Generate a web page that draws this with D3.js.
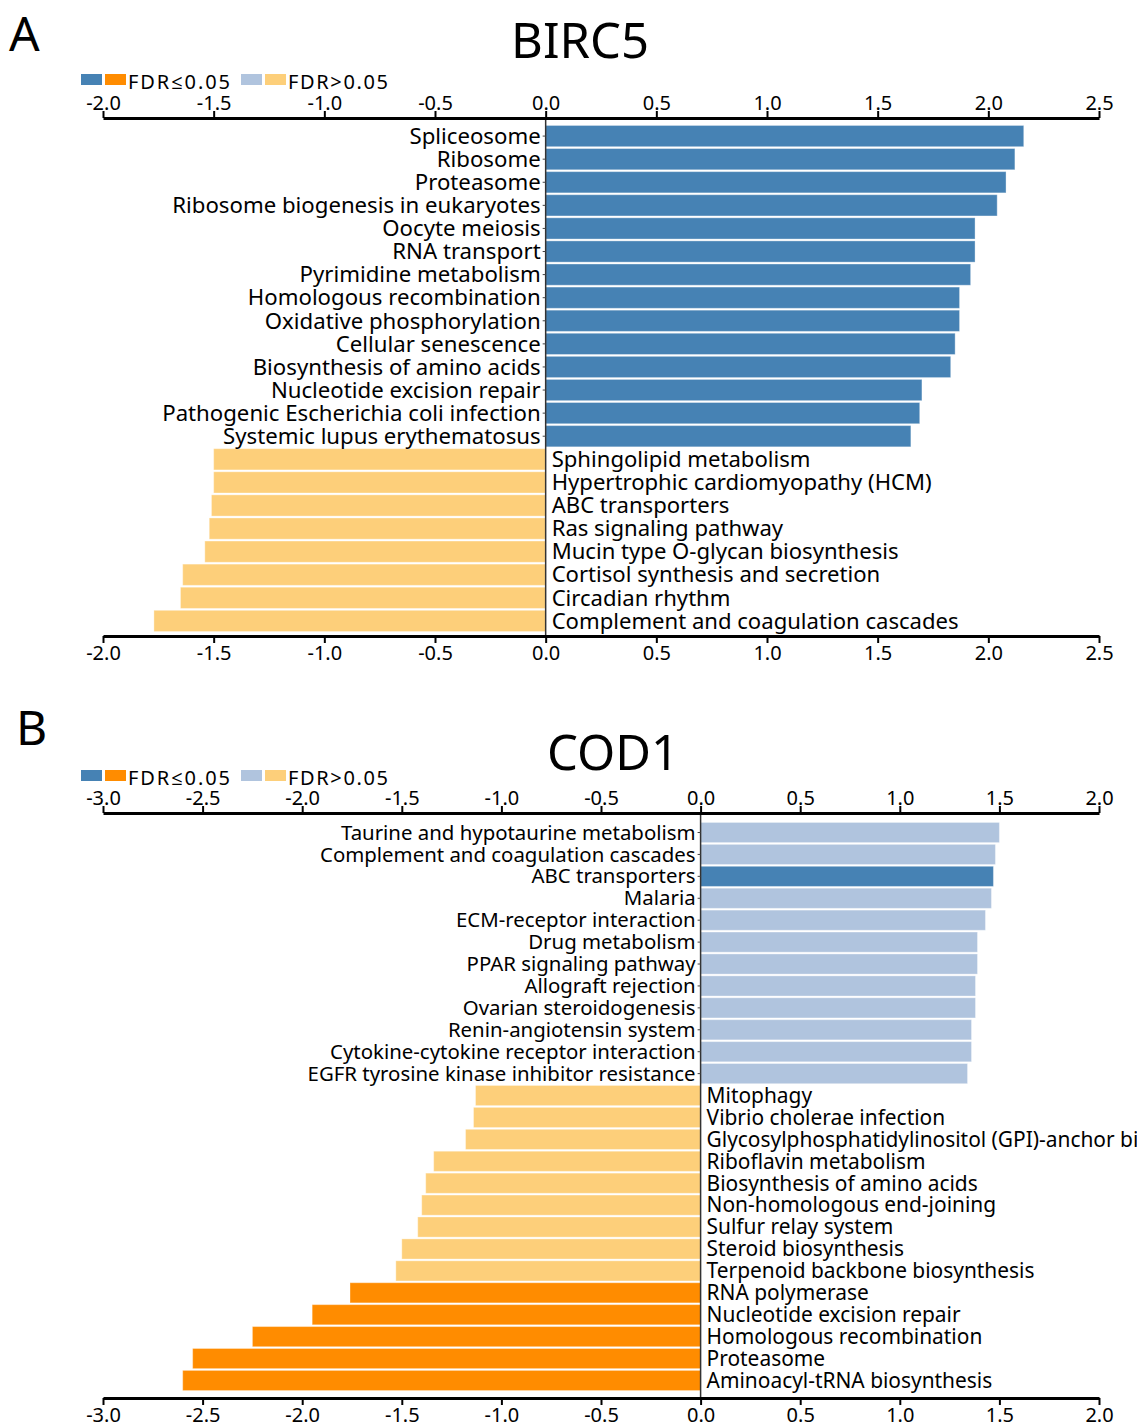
<!DOCTYPE html>
<html>
<head>
<meta charset="utf-8">
<script src="https://cdn.jsdelivr.net/npm/d3@7"></script>
<style>
  body { margin: 0; background: #fff; }
  text { font-family: "Noto Sans", "Open Sans", sans-serif; fill: #000; }
</style>
</head>
<body>
<svg width="1137" height="1426"></svg>
<script>
// panel A - BIRC5
const birc5Terms = [
  "Spliceosome", "Ribosome", "Proteasome", "Ribosome biogenesis in eukaryotes",
  "Oocyte meiosis", "RNA transport", "Pyrimidine metabolism", "Homologous recombination",
  "Oxidative phosphorylation", "Cellular senescence", "Biosynthesis of amino acids",
  "Nucleotide excision repair", "Pathogenic Escherichia coli infection", "Systemic lupus erythematosus",
  "Sphingolipid metabolism", "Hypertrophic cardiomyopathy (HCM)", "ABC transporters",
  "Ras signaling pathway", "Mucin type O-glycan biosynthesis", "Cortisol synthesis and secretion",
  "Circadian rhythm", "Complement and coagulation cascades"
];
const birc5Values = [
  2.16, 2.12, 2.08, 2.04, 1.94, 1.94, 1.92, 1.87, 1.87, 1.85, 1.83, 1.70, 1.69, 1.65,
  -1.50, -1.50, -1.51, -1.52, -1.54, -1.64, -1.65, -1.77
];
const birc5Sig = [
  1, 1, 1, 1, 1, 1, 1, 1, 1, 1, 1, 1, 1, 1,
  0, 0, 0, 0, 0, 0, 0, 0
];
const birc5Ticks = [-2.0, -1.5, -1.0, -0.5, 0.0, 0.5, 1.0, 1.5, 2.0, 2.5];

// panel B - COD1
const cod1Terms = [
  "Taurine and hypotaurine metabolism", "Complement and coagulation cascades", "ABC transporters",
  "Malaria", "ECM-receptor interaction", "Drug metabolism", "PPAR signaling pathway",
  "Allograft rejection", "Ovarian steroidogenesis", "Renin-angiotensin system",
  "Cytokine-cytokine receptor interaction", "EGFR tyrosine kinase inhibitor resistance",
  "Mitophagy", "Vibrio cholerae infection", "Glycosylphosphatidylinositol (GPI)-anchor biosynthesis",
  "Riboflavin metabolism", "Biosynthesis of amino acids", "Non-homologous end-joining",
  "Sulfur relay system", "Steroid biosynthesis", "Terpenoid backbone biosynthesis",
  "RNA polymerase", "Nucleotide excision repair", "Homologous recombination",
  "Proteasome", "Aminoacyl-tRNA biosynthesis"
];
const cod1Values = [
  1.50, 1.48, 1.47, 1.46, 1.43, 1.39, 1.39, 1.38, 1.38, 1.36, 1.36, 1.34,
  -1.13, -1.14, -1.18, -1.34, -1.38, -1.40, -1.42, -1.50, -1.53,
  -1.76, -1.95, -2.25, -2.55, -2.60
];
const cod1Sig = [
  0, 0, 1, 0, 0, 0, 0, 0, 0, 0, 0, 0,
  0, 0, 0, 0, 0, 0, 0, 0, 0,
  1, 1, 1, 1, 1
];
const cod1Ticks = [-3.0, -2.5, -2.0, -1.5, -1.0, -0.5, 0.0, 0.5, 1.0, 1.5, 2.0];

const upSig = "#4682b4", upNs = "#b0c4de", downSig = "#ff8c00", downNs = "#fdcf7a";
const barColor = (v, s) => v >= 0 ? (s ? upSig : upNs) : (s ? downSig : downNs);

const svg = d3.select("svg");

const panel = (props) => {
  const { letter, letterX, letterY, title, titleX, titleY, legendY,
          terms, values, sig, ticks, top, bottom, barTop, barBottom, fontSize } = props;

  const g = svg.append("g");
  const rows = terms.map((t, i) => ({ term: t, value: values[i], sig: sig[i] }));

  const x = d3.scaleLinear()
    .domain(d3.extent(ticks))
    .range([103, 1099]);

  const y = d3.scaleBand()
    .domain(terms)
    .range([barTop, barBottom])
    .paddingInner(0.08)
    .paddingOuter(0.02);

  g.append("text")
    .attr("x", letterX).attr("y", letterY)
    .attr("font-size", 48)
    .text(letter);

  g.append("text")
    .attr("x", titleX).attr("y", titleY)
    .attr("text-anchor", "middle")
    .attr("font-size", 49)
    .text(title);

  // legend
  const legend = g.append("g").attr("transform", `translate(81,${legendY})`);
  [[0, upSig], [24, downSig], [160, upNs], [184, downNs]].forEach(([lx, c]) => {
    legend.append("rect").attr("x", lx).attr("y", 0).attr("width", 21).attr("height", 11).attr("fill", c);
  });
  legend.append("text").attr("x", 47).attr("y", 15).attr("font-size", 20)
    .attr("textLength", 102).attr("lengthAdjust", "spacing").text("FDR\u22640.05");
  legend.append("text").attr("x", 207).attr("y", 15).attr("font-size", 20)
    .attr("textLength", 100).attr("lengthAdjust", "spacing").text("FDR>0.05");

  // bars
  g.selectAll("rect.bar")
    .data(rows)
    .enter().append("rect")
      .attr("class", "bar")
      .attr("x", d => x(Math.min(0, d.value)))
      .attr("y", d => y(d.term))
      .attr("width", d => Math.abs(x(d.value) - x(0)))
      .attr("height", y.bandwidth())
      .attr("fill", d => barColor(d.value, d.sig))
      .attr("stroke", "#ffffff")
      .attr("stroke-opacity", 0.35)
      .attr("stroke-width", 1);

  // zero line with small row ticks
  g.append("line")
    .attr("x1", x(0)).attr("x2", x(0))
    .attr("y1", top).attr("y2", bottom)
    .attr("stroke", "#333")
    .attr("stroke-width", 1.5);
  g.selectAll("line.rowtick")
    .data(rows.filter(d => d.value >= 0))
    .enter().append("line")
      .attr("class", "rowtick")
      .attr("x1", x(0) - 3).attr("x2", x(0))
      .attr("y1", d => y(d.term) + y.bandwidth() / 2)
      .attr("y2", d => y(d.term) + y.bandwidth() / 2)
      .attr("stroke", "#444")
      .attr("stroke-width", 1);

  // term labels
  g.selectAll("text.term")
    .data(rows)
    .enter().append("text")
      .attr("class", "term")
      .attr("x", d => d.value >= 0 ? x(0) - 5 : x(0) + 6)
      .attr("y", d => y(d.term) + y.bandwidth() / 2)
      .attr("dy", "0.35em")
      .attr("text-anchor", d => d.value >= 0 ? "end" : "start")
      .attr("font-size", d => d.value >= 0 ? fontSize[0] : fontSize[1])
      .text(d => d.term);

  const fmt = d => d.toFixed(1);

  const axisTop = g.append("g")
    .attr("transform", `translate(0,${top})`)
    .call(d3.axisTop(x).tickValues(ticks).tickFormat(fmt).tickSize(7).tickSizeOuter(0).tickPadding(1));
  const axisBottom = g.append("g")
    .attr("transform", `translate(0,${bottom})`)
    .call(d3.axisBottom(x).tickValues(ticks).tickFormat(fmt).tickSize(7).tickSizeOuter(0).tickPadding(3));

  [axisTop, axisBottom].forEach(a => {
    a.select(".domain").attr("stroke", "#000").attr("stroke-width", 3);
    a.selectAll(".tick line").attr("stroke", "#000").attr("stroke-width", 2);
    a.selectAll(".tick text")
      .attr("font-size", 20)
      .attr("font-family", "'Noto Sans', 'Open Sans', sans-serif")
      .attr("fill", "#000");
  });
};

panel({
  letter: "A", letterX: 9, letterY: 51,
  title: "BIRC5", titleX: 580, titleY: 58,
  legendY: 74,
  terms: birc5Terms, values: birc5Values, sig: birc5Sig, ticks: birc5Ticks,
  top: 118, bottom: 636, barTop: 125, barBottom: 632, fontSize: [22.2, 22.1]
});

panel({
  letter: "B", letterX: 16, letterY: 745,
  title: "COD1", titleX: 613, titleY: 770,
  legendY: 770,
  terms: cod1Terms, values: cod1Values, sig: cod1Sig, ticks: cod1Ticks,
  top: 813, bottom: 1398, barTop: 822, barBottom: 1391, fontSize: [20.4, 20.9]
});
</script>
</body>
</html>
